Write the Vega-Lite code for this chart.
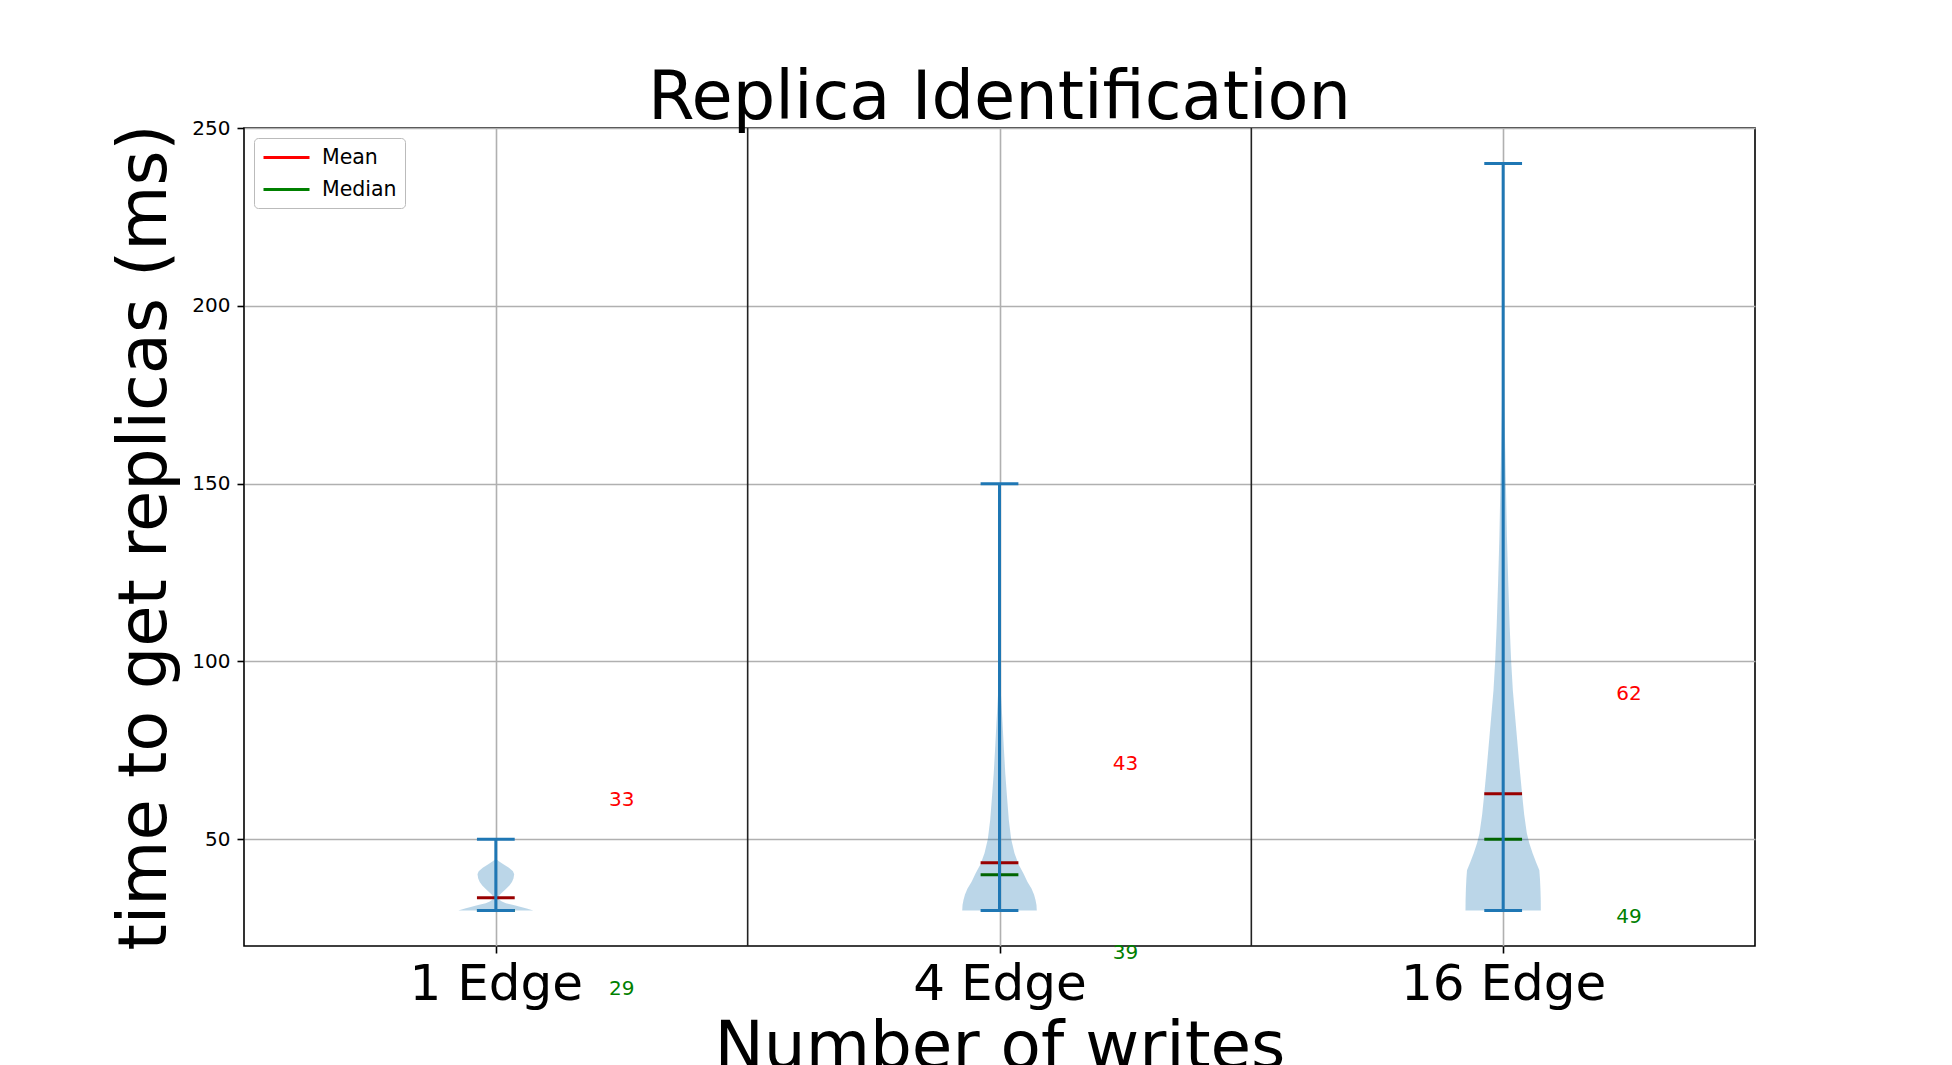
{
  "$schema": "https://vega.github.io/schema/vega-lite/v6.json",
  "width": 1511,
  "height": 818,
  "autosize": {"type": "none"},
  "padding": {"left": 244, "top": 128, "right": 197, "bottom": 119},
  "background": "white",
  "title": {
    "text": "Replica Identification",
    "fontSize": 67,
    "font": "DejaVu Sans",
    "fontWeight": "normal",
    "color": "black",
    "anchor": "middle",
    "frame": "group",
    "baseline": "alphabetic",
    "offset": -68
  },
  "datasets": {
    "violin": [
      {"edge": "1 Edge", "y": 30.0, "lo": 0.9256, "hi": 1.0744},
      {"edge": "1 Edge", "y": 30.5, "lo": 0.937, "hi": 1.063},
      {"edge": "1 Edge", "y": 31.0, "lo": 0.950, "hi": 1.050},
      {"edge": "1 Edge", "y": 31.5, "lo": 0.965, "hi": 1.035},
      {"edge": "1 Edge", "y": 32.0, "lo": 0.980, "hi": 1.020},
      {"edge": "1 Edge", "y": 32.5, "lo": 0.988, "hi": 1.012},
      {"edge": "1 Edge", "y": 33.0, "lo": 0.993, "hi": 1.007},
      {"edge": "1 Edge", "y": 33.6, "lo": 0.995, "hi": 1.005},
      {"edge": "1 Edge", "y": 34.3, "lo": 0.993, "hi": 1.007},
      {"edge": "1 Edge", "y": 35.0, "lo": 0.988, "hi": 1.012},
      {"edge": "1 Edge", "y": 36.0, "lo": 0.980, "hi": 1.020},
      {"edge": "1 Edge", "y": 37.0, "lo": 0.973, "hi": 1.027},
      {"edge": "1 Edge", "y": 38.0, "lo": 0.968, "hi": 1.032},
      {"edge": "1 Edge", "y": 39.0, "lo": 0.965, "hi": 1.035},
      {"edge": "1 Edge", "y": 40.2, "lo": 0.9636, "hi": 1.0364},
      {"edge": "1 Edge", "y": 41.0, "lo": 0.966, "hi": 1.034},
      {"edge": "1 Edge", "y": 42.0, "lo": 0.974, "hi": 1.026},
      {"edge": "1 Edge", "y": 43.0, "lo": 0.985, "hi": 1.015},
      {"edge": "1 Edge", "y": 43.8, "lo": 0.994, "hi": 1.006},
      {"edge": "1 Edge", "y": 44.4, "lo": 0.999, "hi": 1.001},
      {"edge": "1 Edge", "y": 45.5, "lo": 1.0, "hi": 1.0},
      {"edge": "1 Edge", "y": 50.0, "lo": 1.0, "hi": 1.0},
      {"edge": "4 Edge", "y": 30.0, "lo": 1.9260, "hi": 2.0740},
      {"edge": "4 Edge", "y": 31.5, "lo": 1.9266, "hi": 2.0734},
      {"edge": "4 Edge", "y": 33.0, "lo": 1.9286, "hi": 2.0714},
      {"edge": "4 Edge", "y": 34.5, "lo": 1.9315, "hi": 2.0685},
      {"edge": "4 Edge", "y": 36.2, "lo": 1.9365, "hi": 2.0635},
      {"edge": "4 Edge", "y": 38.0, "lo": 1.9444, "hi": 2.0556},
      {"edge": "4 Edge", "y": 40.4, "lo": 1.9524, "hi": 2.0476},
      {"edge": "4 Edge", "y": 43.0, "lo": 1.9623, "hi": 2.0377},
      {"edge": "4 Edge", "y": 46.1, "lo": 1.9702, "hi": 2.0298},
      {"edge": "4 Edge", "y": 50.0, "lo": 1.9768, "hi": 2.0232},
      {"edge": "4 Edge", "y": 55.4, "lo": 1.9815, "hi": 2.0185},
      {"edge": "4 Edge", "y": 62.0, "lo": 1.9851, "hi": 2.0149},
      {"edge": "4 Edge", "y": 68.5, "lo": 1.9885, "hi": 2.0115},
      {"edge": "4 Edge", "y": 75.0, "lo": 1.9911, "hi": 2.0089},
      {"edge": "4 Edge", "y": 82.0, "lo": 1.9937, "hi": 2.0063},
      {"edge": "4 Edge", "y": 88.0, "lo": 1.9960, "hi": 2.0040},
      {"edge": "4 Edge", "y": 93.0, "lo": 1.9980, "hi": 2.0020},
      {"edge": "4 Edge", "y": 100.0, "lo": 1.9992, "hi": 2.0008},
      {"edge": "4 Edge", "y": 115.0, "lo": 1.9998, "hi": 2.0002},
      {"edge": "4 Edge", "y": 150.0, "lo": 2.0, "hi": 2.0},
      {"edge": "16 Edge", "y": 30.0, "lo": 2.9252, "hi": 3.0748},
      {"edge": "16 Edge", "y": 33.0, "lo": 2.9254, "hi": 3.0746},
      {"edge": "16 Edge", "y": 36.0, "lo": 2.9260, "hi": 3.0740},
      {"edge": "16 Edge", "y": 39.0, "lo": 2.9270, "hi": 3.0730},
      {"edge": "16 Edge", "y": 41.3, "lo": 2.9282, "hi": 3.0718},
      {"edge": "16 Edge", "y": 43.5, "lo": 2.9345, "hi": 3.0655},
      {"edge": "16 Edge", "y": 46.1, "lo": 2.9415, "hi": 3.0585},
      {"edge": "16 Edge", "y": 49.0, "lo": 2.9484, "hi": 3.0516},
      {"edge": "16 Edge", "y": 51.7, "lo": 2.9530, "hi": 3.0470},
      {"edge": "16 Edge", "y": 57.0, "lo": 2.9583, "hi": 3.0417},
      {"edge": "16 Edge", "y": 62.0, "lo": 2.9619, "hi": 3.0381},
      {"edge": "16 Edge", "y": 70.0, "lo": 2.9673, "hi": 3.0327},
      {"edge": "16 Edge", "y": 77.9, "lo": 2.9722, "hi": 3.0278},
      {"edge": "16 Edge", "y": 85.0, "lo": 2.9766, "hi": 3.0234},
      {"edge": "16 Edge", "y": 91.9, "lo": 2.9808, "hi": 3.0192},
      {"edge": "16 Edge", "y": 100.0, "lo": 2.9841, "hi": 3.0159},
      {"edge": "16 Edge", "y": 110.0, "lo": 2.9871, "hi": 3.0129},
      {"edge": "16 Edge", "y": 123.0, "lo": 2.9901, "hi": 3.0099},
      {"edge": "16 Edge", "y": 135.0, "lo": 2.9925, "hi": 3.0075},
      {"edge": "16 Edge", "y": 146.0, "lo": 2.9940, "hi": 3.0060},
      {"edge": "16 Edge", "y": 160.0, "lo": 2.9960, "hi": 3.0040},
      {"edge": "16 Edge", "y": 170.0, "lo": 2.9974, "hi": 3.0026},
      {"edge": "16 Edge", "y": 185.0, "lo": 2.9986, "hi": 3.0014},
      {"edge": "16 Edge", "y": 200.0, "lo": 2.9992, "hi": 3.0008},
      {"edge": "16 Edge", "y": 220.0, "lo": 2.9997, "hi": 3.0003},
      {"edge": "16 Edge", "y": 240.0, "lo": 3.0, "hi": 3.0}
    ],
    "stats": [
      {"edge": "1 Edge", "pos": 1, "capL": 0.9625, "capR": 1.0375, "min": 30, "max": 50, "mean": 33.6, "median": 30.0, "labelX": 1.25, "meanLabel": "33", "meanLabelY": 59.4, "medLabel": "29", "medLabelY": 6.3},
      {"edge": "4 Edge", "pos": 2, "capL": 1.9625, "capR": 2.0375, "min": 30, "max": 150, "mean": 43.4, "median": 40.0, "labelX": 2.25, "meanLabel": "43", "meanLabelY": 69.5, "medLabel": "39", "medLabelY": 16.3},
      {"edge": "16 Edge", "pos": 3, "capL": 2.9625, "capR": 3.0375, "min": 30, "max": 240, "mean": 62.8, "median": 50.0, "labelX": 3.25, "meanLabel": "62", "meanLabelY": 89.2, "medLabel": "49", "medLabelY": 26.4}
    ],
    "separators": [{"x": 1.5}, {"x": 2.5}],
    "legendItems": [{"stat": "Mean"}, {"stat": "Median"}]
  },
  "layer": [
    {
      "data": {"name": "separators"},
      "mark": {"type": "rule", "color": "#222222", "strokeWidth": 1.6},
      "encoding": {
        "x": {
          "field": "x",
          "type": "quantitative",
          "scale": {"domain": [0.5, 3.5], "nice": false, "zero": false},
          "axis": {
            "orient": "bottom",
            "values": [1, 2, 3],
            "labelExpr": "datum.value == 1 ? '1 Edge' : datum.value == 2 ? '4 Edge' : '16 Edge'",
            "labelFontSize": 50,
            "labelPadding": 6,
            "labelLimit": 500,
            "labelOverlap": false,
            "labelFlush": false,
            "title": "Number of writes",
            "titleFontSize": 66,
            "titlePadding": 6,
            "grid": true
          }
        }
      }
    },
    {
      "data": {"name": "violin"},
      "mark": {"type": "area", "orient": "horizontal", "color": "#1f77b4", "opacity": 0.3},
      "encoding": {
        "detail": {"field": "edge", "type": "nominal"},
        "y": {
          "field": "y",
          "type": "quantitative",
          "scale": {"domain": [20, 250], "nice": false, "zero": false},
          "axis": {
            "values": [50, 100, 150, 200, 250],
            "labelFontSize": 20,
            "labelPadding": 7,
            "title": "time to get replicas (ms)",
            "titleFontSize": 67,
            "titlePadding": 12,
            "grid": true
          }
        },
        "x": {"field": "lo", "type": "quantitative"},
        "x2": {"field": "hi"}
      }
    },
    {
      "data": {"name": "stats"},
      "mark": {"type": "rule", "color": "#990000", "strokeWidth": 3},
      "encoding": {
        "x": {"field": "capL", "type": "quantitative"},
        "x2": {"field": "capR"},
        "y": {"field": "mean", "type": "quantitative"}
      }
    },
    {
      "data": {"name": "stats"},
      "mark": {"type": "rule", "color": "#006400", "strokeWidth": 3},
      "encoding": {
        "x": {"field": "capL", "type": "quantitative"},
        "x2": {"field": "capR"},
        "y": {"field": "median", "type": "quantitative"}
      }
    },
    {
      "data": {"name": "stats"},
      "mark": {"type": "rule", "color": "#1f77b4", "strokeWidth": 3},
      "encoding": {
        "x": {"field": "pos", "type": "quantitative"},
        "y": {"field": "min", "type": "quantitative"},
        "y2": {"field": "max"}
      }
    },
    {
      "data": {"name": "stats"},
      "mark": {"type": "rule", "color": "#1f77b4", "strokeWidth": 3},
      "encoding": {
        "x": {"field": "capL", "type": "quantitative"},
        "x2": {"field": "capR"},
        "y": {"field": "min", "type": "quantitative"}
      }
    },
    {
      "data": {"name": "stats"},
      "mark": {"type": "rule", "color": "#1f77b4", "strokeWidth": 3},
      "encoding": {
        "x": {"field": "capL", "type": "quantitative"},
        "x2": {"field": "capR"},
        "y": {"field": "max", "type": "quantitative"}
      }
    },
    {
      "data": {"name": "stats"},
      "mark": {"type": "text", "color": "red", "fontSize": 20, "font": "DejaVu Sans", "align": "center", "baseline": "alphabetic"},
      "encoding": {
        "x": {"field": "labelX", "type": "quantitative"},
        "y": {"field": "meanLabelY", "type": "quantitative"},
        "text": {"field": "meanLabel"}
      }
    },
    {
      "data": {"name": "stats"},
      "mark": {"type": "text", "color": "green", "fontSize": 20, "font": "DejaVu Sans", "align": "center", "baseline": "alphabetic"},
      "encoding": {
        "x": {"field": "labelX", "type": "quantitative"},
        "y": {"field": "medLabelY", "type": "quantitative"},
        "text": {"field": "medLabel"}
      }
    },
    {
      "data": {"name": "legendItems"},
      "mark": {"type": "rule", "opacity": 0},
      "encoding": {
        "x": {"datum": 1, "type": "quantitative"},
        "color": {
          "field": "stat",
          "type": "nominal",
          "scale": {"domain": ["Mean", "Median"], "range": ["red", "green"]},
          "legend": {
            "title": null,
            "orient": "none",
            "legendX": 10,
            "legendY": 10,
            "direction": "vertical",
            "symbolType": "M-1,0H3.6",
            "symbolSize": 400,
            "symbolStrokeWidth": 3,
            "symbolOpacity": 1,
            "labelFontSize": 20.5,
            "labelFont": "DejaVu Sans",
            "labelColor": "black",
            "labelOffset": 37,
            "fillColor": "white",
            "strokeColor": "#bbbbbb",
            "padding": 8,
            "cornerRadius": 4,
            "rowPadding": 10
          }
        }
      }
    }
  ],
  "config": {
    "font": "DejaVu Sans",
    "view": {"stroke": "black", "strokeWidth": 1.6},
    "axis": {
      "domain": false,
      "tickColor": "black",
      "tickWidth": 1.6,
      "tickSize": 7,
      "gridColor": "#b0b0b0",
      "gridWidth": 1.6,
      "labelColor": "black",
      "titleColor": "black",
      "labelFont": "DejaVu Sans",
      "titleFont": "DejaVu Sans",
      "titleFontWeight": "normal"
    }
  }
}
